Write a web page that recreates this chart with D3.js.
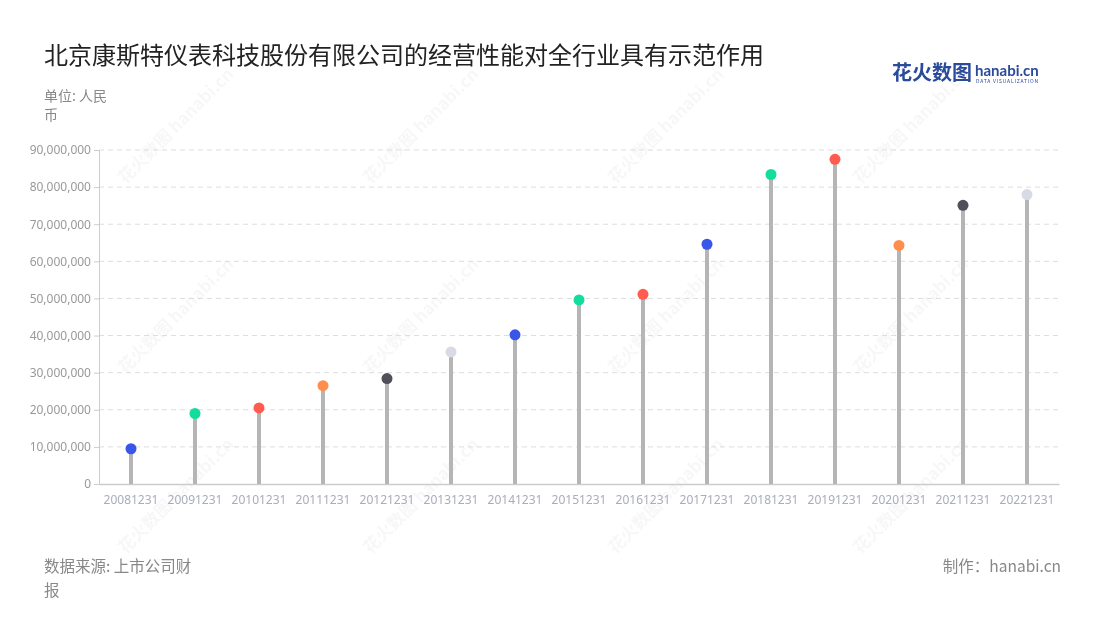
<!DOCTYPE html>
<html><head><meta charset="utf-8">
<script src="https://cdn.jsdelivr.net/npm/d3@7"></script>
<style>body{margin:0;background:#fff;}svg{display:block;font-family:"Noto Sans CJK SC","Noto Sans",sans-serif;}</style>
</head><body>
<svg id="c" width="1100" height="620"></svg>
<script>
const categories = ["20081231","20091231","20101231","20111231","20121231","20131231","20141231","20151231","20161231","20171231","20181231","20191231","20201231","20211231","20221231"];
const values = [9500000,19000000,20500000,26500000,28400000,35600000,40200000,49600000,51100000,64600000,83400000,87500000,64300000,75100000,78000000];
const yTicks = [0,10000000,20000000,30000000,40000000,50000000,60000000,70000000,80000000,90000000];
const dotColors = ["#3a56e8","#12dd9c","#ff5b4f","#ff8d4c","#50505a","#d8dbe5","#3a56e8","#12dd9c","#ff5b4f"];

const svg = d3.select("#c");
const m = {l:99, r:1059, t:150, b:484};
const x = d3.scaleBand().domain(categories).range([m.l, m.r]);
const y = d3.scaleLinear().domain([0, 90000000]).range([m.b, m.t]);

// watermarks
const wm = svg.append("g").attr("fill","#000").attr("opacity",0.035).attr("font-weight","bold");
[[180,130],[425,130],[670,130],[915,130],[180,320],[425,320],[670,320],[915,320],[180,500],[425,500],[670,500],[915,500]].forEach(([cx,cy])=>{
  const g = wm.append("g").attr("transform",`translate(${cx},${cy}) rotate(-45)`);
  g.append("text").attr("font-size",17).attr("text-anchor","middle").text("花火数图 hanabi.cn");
});

// title
svg.append("text").attr("x",44).attr("y",64).attr("font-size",24).attr("fill","#222").text("北京康斯特仪表科技股份有限公司的经营性能对全行业具有示范作用");
svg.append("text").attr("x",44).attr("y",101).attr("font-size",14).attr("fill","#888").text("单位: 人民");
svg.append("text").attr("x",44).attr("y",120).attr("font-size",14).attr("fill","#888").text("币");

// logo
const lg = svg.append("g");
lg.append("text").attr("x",892).attr("y",80).attr("font-size",20).attr("font-weight","bold").attr("fill","#2a4a9c").text("花火数图");
lg.append("text").attr("x",975).attr("y",76).attr("font-size",15).attr("font-weight","bold").attr("fill","#2a4a9c").attr("font-family","Lato, sans-serif").text("hanabi.cn");
lg.append("text").attr("x",976).attr("y",83).attr("font-size",5).attr("fill","#2a4a9c").attr("letter-spacing",0.8).text("DATA VISUALIZATION");

// grid
svg.append("g").selectAll("line").data(yTicks.slice(1)).join("line")
  .attr("x1",m.l).attr("x2",m.r).attr("y1",d=>y(d)).attr("y2",d=>y(d))
  .attr("stroke","#ddd").attr("stroke-dasharray","5,4");

// y axis
const ya = svg.append("g").attr("transform",`translate(${m.l},0)`)
  .call(d3.axisLeft(y).tickValues(yTicks).tickSize(5).tickFormat(d3.format(",")));
ya.select(".domain").attr("stroke","#ccc");
ya.selectAll(".tick line").attr("stroke","#ccc");
ya.selectAll(".tick text").attr("fill","#999").attr("font-size",12).attr("font-family","Noto Sans, sans-serif");

// x axis
const xa = svg.append("g").attr("transform",`translate(0,${m.b})`)
  .call(d3.axisBottom(x).tickSize(0).tickPadding(11));
xa.select(".domain").attr("stroke","#ccc").attr("stroke-width",1.5);
xa.selectAll(".tick text").attr("fill","#a9acba").attr("font-size",12).attr("font-family","Noto Sans, sans-serif");

// stems
svg.append("g").selectAll("line").data(values).join("line")
  .attr("x1",(d,i)=>x(categories[i])+x.bandwidth()/2).attr("x2",(d,i)=>x(categories[i])+x.bandwidth()/2)
  .attr("y1",y(0)).attr("y2",d=>y(d))
  .attr("stroke","#b5b5b5").attr("stroke-width",4);
// dots
svg.append("g").selectAll("circle").data(values).join("circle")
  .attr("cx",(d,i)=>x(categories[i])+x.bandwidth()/2).attr("cy",d=>y(d)).attr("r",5.5)
  .attr("fill",(d,i)=>dotColors[i%dotColors.length]);

// footer
svg.append("text").attr("x",44).attr("y",572).attr("font-size",15.5).attr("fill","#888").text("数据来源: 上市公司财");
svg.append("text").attr("x",44).attr("y",596).attr("font-size",15.5).attr("fill","#888").text("报");
svg.append("text").attr("x",1061).attr("y",572).attr("font-size",15.5).attr("fill","#888").attr("text-anchor","end").text("制作：hanabi.cn");
</script>
</body></html>
